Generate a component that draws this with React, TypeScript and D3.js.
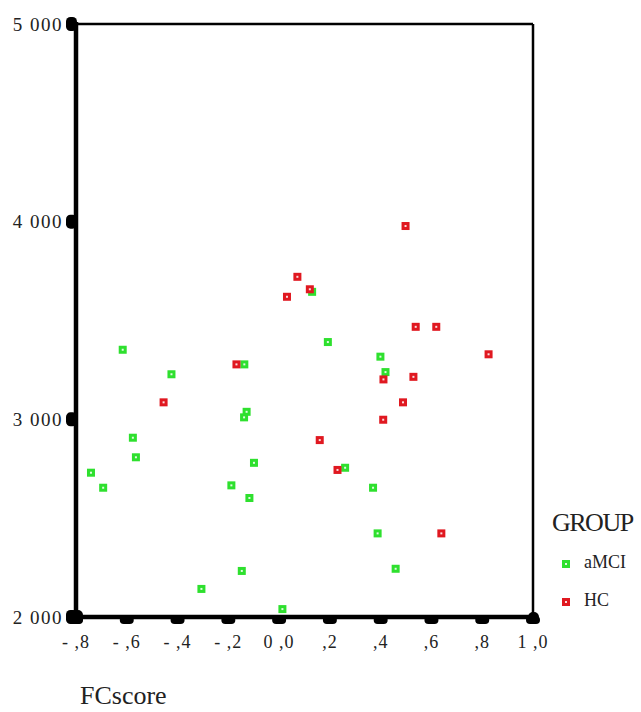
import React from "react";
import * as d3 from "d3";

// scatter: FCscore vs value, by GROUP
const amciFC = [-0.616, -0.424, -0.137, -0.128, -0.138, -0.576, -0.564, -0.741, -0.693, -0.099, -0.188, -0.117, -0.306, -0.147, 0.013, 0.13, 0.192, 0.399, 0.419, 0.26, 0.37, 0.388, 0.459];
const amciVal = [3352, 3228, 3278, 3038, 3010, 2907, 2808, 2730, 2654, 2780, 2666, 2602, 2142, 2233, 2040, 3645, 3391, 3317, 3239, 2755, 2654, 2423, 2244];
const hcFC = [-0.455, -0.168, 0.498, 0.072, 0.121, 0.031, 0.538, 0.619, 0.411, 0.529, 0.825, 0.488, 0.41, 0.16, 0.23, 0.639];
const hcVal = [3086, 3278, 3978, 3721, 3658, 3620, 3468, 3468, 3202, 3215, 3329, 3086, 2998, 2895, 2744, 2423];

const xTicks = [-0.8, -0.6, -0.4, -0.2, 0, 0.2, 0.4, 0.6, 0.8, 1.0];
const xTickLabels = ["- ,8", "- ,6", "- ,4", "- ,2", "0 ,0", ",2", ",4", ",6", ",8", "1 ,0"];
const yTicks = [2000, 3000, 4000, 5000];
const yTickLabels = ["2 000", "3 000", "4 000", "5 000"];
const groups = ["aMCI", "HC"];
const colors = ["#2ee02e", "#e01820"];

const font = "'Liberation Serif', 'Times New Roman', serif";

export default function App() {
  const x = d3.scaleLinear().domain([-0.8, 1.0]).range([76, 533]);
  const y = d3.scaleLinear().domain([2000, 5000]).range([617, 24]);

  const amci = amciFC.map((v, i) => ({ fc: v, val: amciVal[i] }));
  const hc = hcFC.map((v, i) => ({ fc: v, val: hcVal[i] }));

  const marker = (cx: number, cy: number, c: string, key: string) => (
    <g key={key}>
      <rect x={cx - 4} y={cy - 4} width={8} height={8} fill={c} />
      <rect x={cx - 1} y={cy - 1} width={2} height={2} fill="#ffffff" opacity={0.85} />
    </g>
  );

  return (
    <svg width={641} height={712} style={{ position: "absolute", left: 0, top: 0, background: "#fff" }}>
      {/* frame */}
      <line x1={x(-0.8)} x2={x(1.0)} y1={y(5000)} y2={y(5000)} stroke="#000" strokeWidth={2.5} />
      <line x1={x(1.0)} x2={x(1.0)} y1={y(5000)} y2={y(2000)} stroke="#000" strokeWidth={2.5} />
      <line x1={x(-0.8)} x2={x(-0.8)} y1={y(5000) - 2} y2={y(2000)} stroke="#000" strokeWidth={4.5} />
      <line x1={x(-0.8)} x2={x(1.0)} y1={y(2000)} y2={y(2000)} stroke="#000" strokeWidth={4.5} />

      {/* y ticks */}
      {yTicks.map((t, i) => (
        <g key={"y" + t}>
          <rect x={x(-0.8) - 10} y={y(t) - 7} width={11} height={14} rx={4.5} fill="#000" />
          <text x={63} y={y(t)} dy="0.35em" textAnchor="end" fontFamily={font} fontSize={19} letterSpacing={1.5} fill="#222">
            {yTickLabels[i]}
          </text>
        </g>
      ))}

      {/* x ticks */}
      {xTicks.map((t, i) => (
        <g key={"x" + t}>
          <rect x={x(t) - 7} y={y(2000) - 1} width={14} height={8} rx={4} fill="#000" />
          <text x={x(t)} y={648} textAnchor="middle" fontFamily={font} fontSize={18} letterSpacing={1} fill="#222">
            {xTickLabels[i]}
          </text>
        </g>
      ))}
      <rect x={x(-0.8) - 6} y={y(2000) - 7} width={13} height={14} rx={5} fill="#000" />
      <rect x={x(1.0) - 5} y={y(2000) - 5} width={11} height={11} rx={5} fill="#000" />

      {/* points */}
      {amci.map((d, i) => marker(x(d.fc), y(d.val), colors[0], "a" + i))}
      {hc.map((d, i) => marker(x(d.fc), y(d.val), colors[1], "h" + i))}

      <text x={80} y={704} fontFamily={font} fontSize={26} fill="#222">FCscore</text>

      {/* legend */}
      <text x={552} y={531} fontFamily={font} fontSize={26} fill="#222" letterSpacing={-1.5}>GROUP</text>
      {groups.map((g, i) => (
        <g key={g}>
          {marker(566, 564 + i * 38, colors[i], "l" + i)}
          <text x={584} y={568 + i * 38} fontFamily={font} fontSize={18} fill="#222">{g}</text>
        </g>
      ))}
    </svg>
  );
}
